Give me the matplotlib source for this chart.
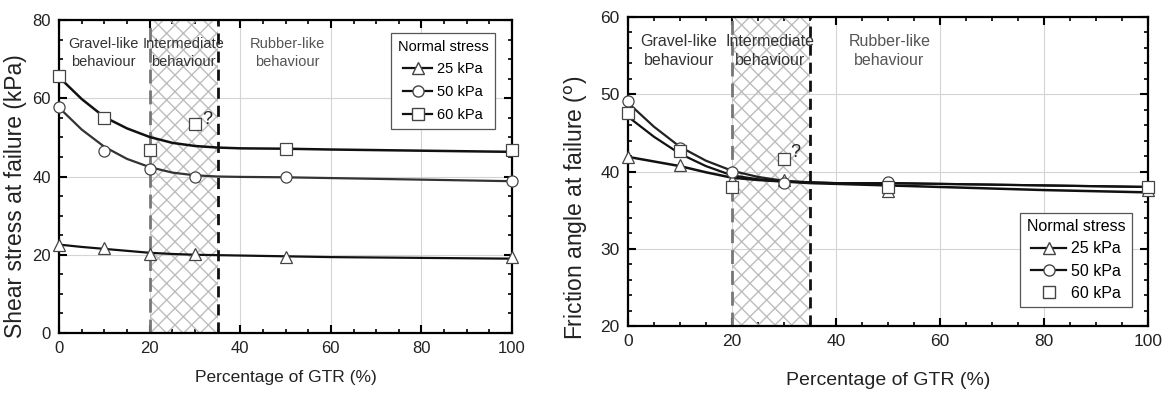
import numpy as np
import matplotlib
matplotlib.use("Agg")
import matplotlib.pyplot as plt
from matplotlib.lines import Line2D
from matplotlib.ticker import MultipleLocator

REG = 'Liberation Sans'

# measured points (x = % GTR)
gtr = [0, 10, 20, 30, 50, 100]

ss_25 = [22.6, 21.7, 20.3, 20.3, 19.5, 19.4]
ss_50 = [57.8, 46.4, 41.9, 40.0, 40.0, 38.8]
ss_60 = [65.7, 55.0, 46.8, 53.5, 47.0, 46.9]

fa_25 = [41.9, 40.8, 38.9, 38.9, 37.5, 37.6]
fa_50 = [49.1, 43.0, 40.0, 38.5, 38.7, 38.0]
fa_60 = [47.6, 42.6, 38.0, 41.6, 38.0, 38.0]

# trend curves
cx = [0, 5, 10, 15, 20, 25, 30, 35, 40, 50, 60, 80, 100]
ss_c25 = [22.6, 22.0, 21.5, 21.0, 20.5, 20.2, 20.0, 19.9, 19.8, 19.6, 19.4, 19.2, 19.0]
ss_c50 = [57.6, 52.0, 47.6, 44.5, 42.4, 41.0, 40.3, 40.0, 39.9, 39.8, 39.6, 39.2, 38.8]
ss_c60 = [65.4, 59.8, 55.2, 52.3, 50.1, 48.6, 47.8, 47.4, 47.2, 47.1, 46.9, 46.6, 46.3]

fa_c25 = [41.9, 41.3, 40.7, 39.9, 39.2, 38.9, 38.7, 38.5, 38.4, 38.2, 38.0, 37.6, 37.3]
fa_c50 = [48.9, 45.8, 43.2, 41.4, 40.1, 39.3, 38.8, 38.6, 38.5, 38.5, 38.4, 38.2, 38.0]
fa_c60 = [47.1, 44.5, 42.3, 40.7, 39.5, 39.0, 38.7, 38.6, 38.5, 38.5, 38.4, 38.2, 38.0]

zone_labels = ['Gravel-like\nbehaviour', 'Intermediate\nbehaviour', 'Rubber-like\nbehaviour']
zone_x = [9.8, 27.4, 50.3]
zone_col = ['#333333', '#333333', '#555555']
leg_labels = ['25 kPa', '50 kPa', '60 kPa']
markers = ['^', 'o', 's']

fig = plt.figure(figsize=(11.67, 3.97), dpi=100)
ax1 = fig.add_axes([0.0506, 0.1612, 0.3882, 0.7884])
ax2 = fig.add_axes([0.5381, 0.1788, 0.4456, 0.7783])

mk = dict(ls='none', mfc='white', mec='#444444', mew=0.9, ms=8, clip_on=False, zorder=5)


def style(ax, ymax, ymin, ymaj, ymin_step, tsize):
    ax.set_xlim(0, 100)
    ax.set_ylim(ymin, ymax)
    ax.xaxis.set_major_locator(MultipleLocator(20))
    ax.xaxis.set_minor_locator(MultipleLocator(5))
    ax.yaxis.set_major_locator(MultipleLocator(ymaj))
    ax.yaxis.set_minor_locator(MultipleLocator(ymin_step))
    ax.tick_params(which='both', direction='in', top=True, right=True, colors='black')
    ax.tick_params(which='major', length=6, width=1.5, pad=6)
    ax.tick_params(which='minor', length=3, width=1.2)
    for lab in ax.get_xticklabels() + ax.get_yticklabels():
        lab.set_family(REG)
        lab.set_fontsize(tsize)
        lab.set_color('#222222')
    for s in ax.spines.values():
        s.set_linewidth(1.6)
    ax.grid(True, which='major', color='#d4d4d4', lw=0.8, zorder=0)
    ax.set_axisbelow(True)
    # intermediate zone
    ax.axvspan(20, 35, facecolor='none', edgecolor='#bdbdbd', hatch='xx', lw=0, zorder=1)
    ax.axvline(20, color='#777777', ls=(0, (5, 2.5)), lw=2, zorder=2)
    ax.axvline(35, color='#111111', ls=(0, (4, 2.5)), lw=2, zorder=2)


# ---------- left: shear stress ----------
style(ax1, 80, 0, 20, 5, 12)
ax1.plot(cx, ss_c25, color='#111111', lw=1.6, zorder=3)
ax1.plot(cx, ss_c50, color='#333333', lw=1.6, zorder=3)
ax1.plot(cx, ss_c60, color='#111111', lw=1.8, zorder=3)
for vals, m in zip([ss_25, ss_50, ss_60], markers):
    ax1.plot(gtr, vals, marker=m, **mk)
ax1.text(31.5, 54.5, '?', family=REG, fontsize=13, ha='left', va='center', color='#222222')
for lab, zx, c in zip(zone_labels, zone_x, zone_col):
    ax1.text(zx, 71.5, lab, family=REG, fontsize=10.5, ha='center', va='center',
             color=c, linespacing=1.4, zorder=4)
ax1.set_xlabel('Percentage of GTR (%)', family=REG, fontsize=12.5, labelpad=10, color='#222222')
ax1.set_ylabel('Shear stress at failure (kPa)', family=REG, fontsize=16.5, color='#222222')
ax1.yaxis.set_label_coords(-0.07, 0.437)

h1 = [Line2D([], [], color='#111111', lw=1.6, marker=m, mfc='white', mec='#444444', ms=8)
      for m in markers]
leg1 = ax1.legend(h1, leg_labels, title='Normal stress', loc='upper right',
                  bbox_to_anchor=(0.962, 0.958), borderaxespad=0, fancybox=False,
                  edgecolor='#555555', framealpha=1, handlelength=2.0, handletextpad=0.3,
                  labelspacing=0.6, borderpad=0.45, prop={'family': REG, 'size': 10.5},
                  title_fontproperties={'family': REG, 'size': 10.5})
leg1.get_frame().set_linewidth(0.9)
leg1.set_zorder(6)

# ---------- right: friction angle ----------
style(ax2, 60, 20, 10, 2, 12.5)
ax2.plot(cx, fa_c25, color='#111111', lw=1.8, zorder=3)
ax2.plot(cx, fa_c50, color='#222222', lw=1.6, zorder=3)
ax2.plot(cx, fa_c60, color='#111111', lw=1.6, zorder=3)
for vals, m in zip([fa_25, fa_50, fa_60], markers):
    ax2.plot(gtr, vals, marker=m, **mk)
ax2.text(31.3, 42.5, '?', family=REG, fontsize=13, ha='left', va='center', color='#222222')
for lab, zx, c in zip(zone_labels, zone_x, zone_col):
    ax2.text(zx, 55.6, lab, family=REG, fontsize=11.5, ha='center', va='center',
             color=c, linespacing=1.35, zorder=4)
ax2.set_xlabel('Percentage of GTR (%)', family=REG, fontsize=14, labelpad=16, color='#222222')
ax2.set_ylabel('Friction angle at failure ($^{\\mathrm{o}}$)', family=REG, fontsize=16.5,
               color='#222222')
ax2.yaxis.set_label_coords(-0.073, 0.382)

h2 = [Line2D([], [], color='#111111', lw=1.6, marker='^', mfc='white', mec='#444444', ms=8),
      Line2D([], [], color='#111111', lw=1.6, marker='o', mfc='white', mec='#444444', ms=8),
      Line2D([], [], ls='none', marker='s', mfc='white', mec='#444444', ms=8)]
leg2 = ax2.legend(h2, leg_labels, title='Normal stress', loc='lower right',
                  bbox_to_anchor=(0.969, 0.061), borderaxespad=0, fancybox=False,
                  edgecolor='#555555', framealpha=1, handlelength=2.2, handletextpad=0.3,
                  labelspacing=0.45, borderpad=0.4, prop={'family': REG, 'size': 11.5},
                  title_fontproperties={'family': REG, 'size': 11.5})
leg2.get_frame().set_linewidth(0.9)
leg2.set_zorder(6)

fig.savefig('out.png', dpi=100)
